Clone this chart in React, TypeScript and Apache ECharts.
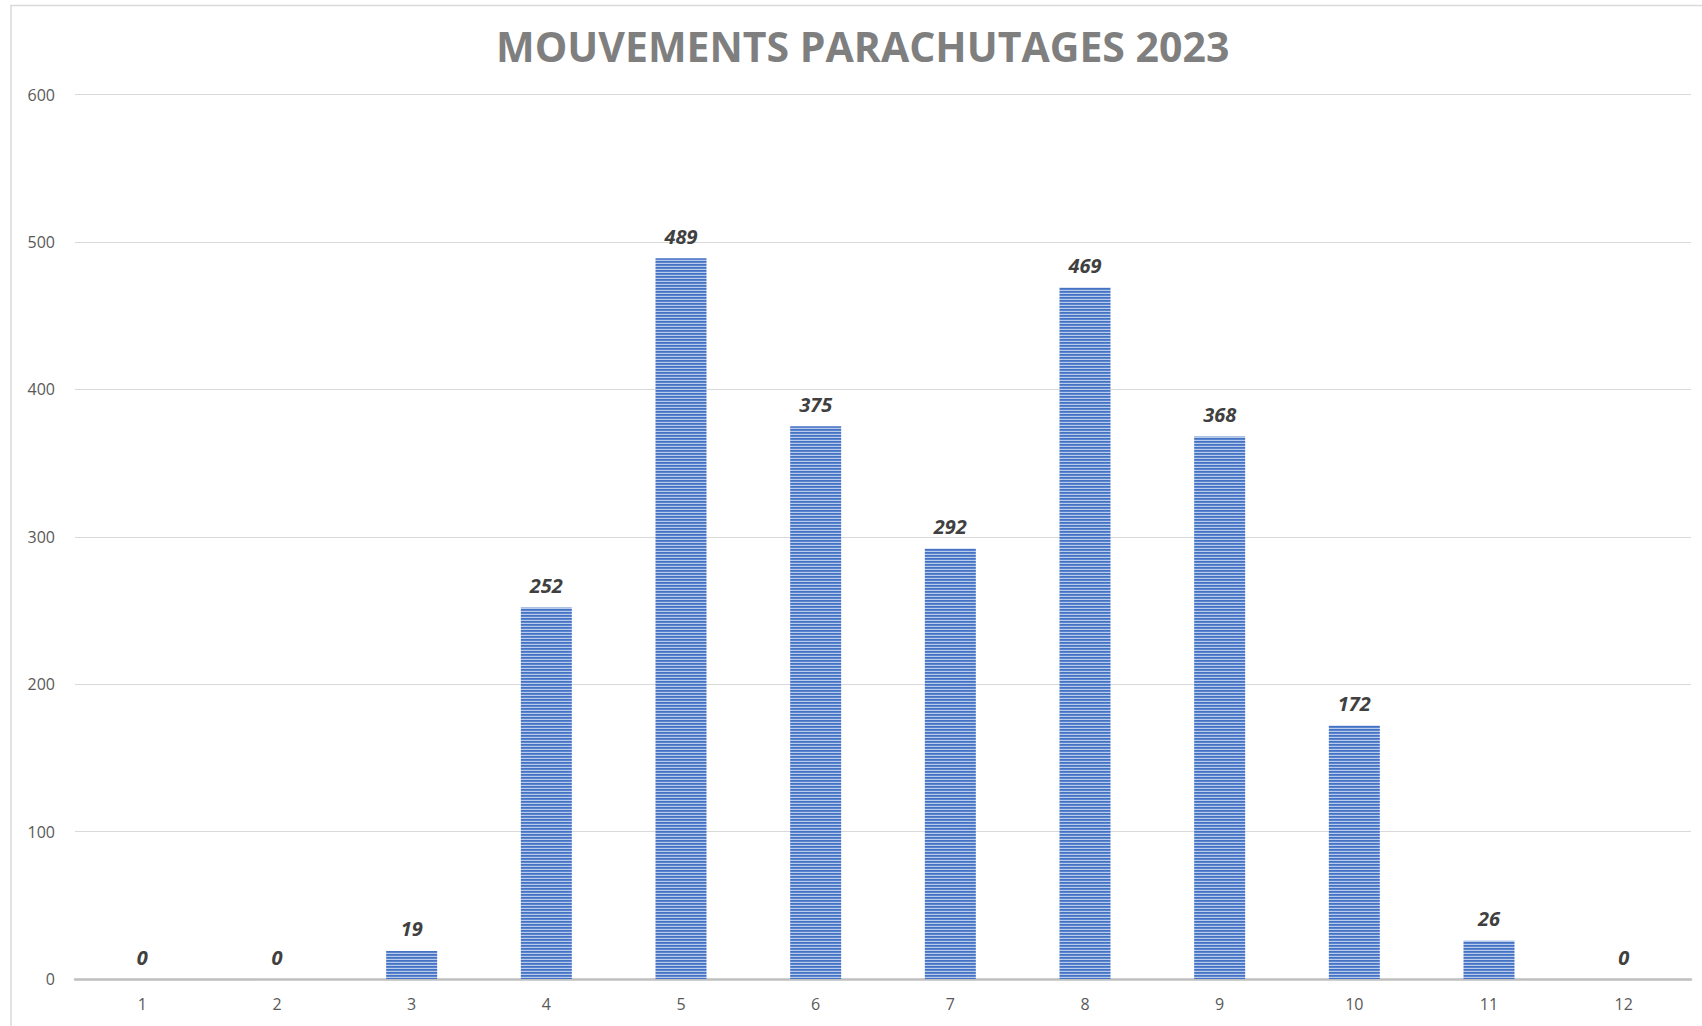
import React, { useEffect, useRef } from "react";
import * as echarts from "echarts";

const TITLE = "MOUVEMENTS PARACHUTAGES 2023";
const months = ["1", "2", "3", "4", "5", "6", "7", "8", "9", "10", "11", "12"];
const values = [0, 0, 19, 252, 489, 375, 292, 469, 368, 172, 26, 0];
const yMin = 0;
const yMax = 600;
const yInterval = 100;

function makeStripePattern() {
  const c = document.createElement("canvas");
  c.width = 4;
  c.height = 3;
  const ctx = c.getContext("2d")!;
  ctx.fillStyle = "#4472c4";
  ctx.fillRect(0, 0, 4, 1);
  ctx.fillStyle = "#5b84cc";
  ctx.fillRect(0, 1, 4, 1);
  ctx.fillStyle = "#b9cbeb";
  ctx.fillRect(0, 2, 4, 1);
  return c;
}

export default function App() {
  const ref = useRef<HTMLDivElement>(null);
  useEffect(() => {
    if (!ref.current) return;
    const chart = echarts.init(ref.current, null, { renderer: "svg" });
    const pattern = makeStripePattern();
    chart.setOption({
      animation: false,
      backgroundColor: "#ffffff",
      title: {
        text: TITLE,
        left: 491,
        top: 20,
        textStyle: {
          fontFamily: "Open Sans",
          fontWeight: "bold",
          fontSize: 41,
          color: "#7f7f7f",
        },
      },
      graphic: [
        {
          type: "rect",
          shape: { x: 11, y: 5.5, width: 1720, height: 1060 },
          style: { fill: "none", stroke: "#d9d9d9", lineWidth: 1.5 },
          silent: true,
          z: -1,
        },
      ],
      grid: { left: 75, right: 11, top: 94.5, bottom: 47 },
      xAxis: {
        type: "category",
        data: months,
        axisLine: { lineStyle: { color: "#bfbfbf", width: 2.5 } },
        axisTick: { show: false },
        axisLabel: {
          color: "#595959",
          fontFamily: "Open Sans",
          fontSize: 16,
          margin: 17,
        },
      },
      yAxis: {
        type: "value",
        min: yMin,
        max: yMax,
        interval: yInterval,
        axisLine: { show: false },
        axisTick: { show: false },
        splitLine: { lineStyle: { color: "#d9d9d9", width: 1 } },
        axisLabel: {
          color: "#595959",
          fontFamily: "Open Sans",
          fontSize: 16,
          margin: 20,
        },
      },
      series: [
        {
          type: "bar",
          data: values,
          barWidth: 51,
          itemStyle: {
            color: {
              image: pattern,
              repeat: "repeat",
              imageWidth: 4,
              imageHeight: 3,
            },
          },
          label: {
            show: true,
            position: "top",
            distance: 12,
            color: "#404040",
            fontFamily: "Open Sans",
            fontWeight: "bold",
            fontStyle: "italic",
            fontSize: 20,
          },
        },
      ],
    });
    return () => chart.dispose();
  }, []);
  return (
    <div
      ref={ref}
      style={{ position: "absolute", left: 0, top: 0, width: 1702, height: 1026 }}
    />
  );
}
